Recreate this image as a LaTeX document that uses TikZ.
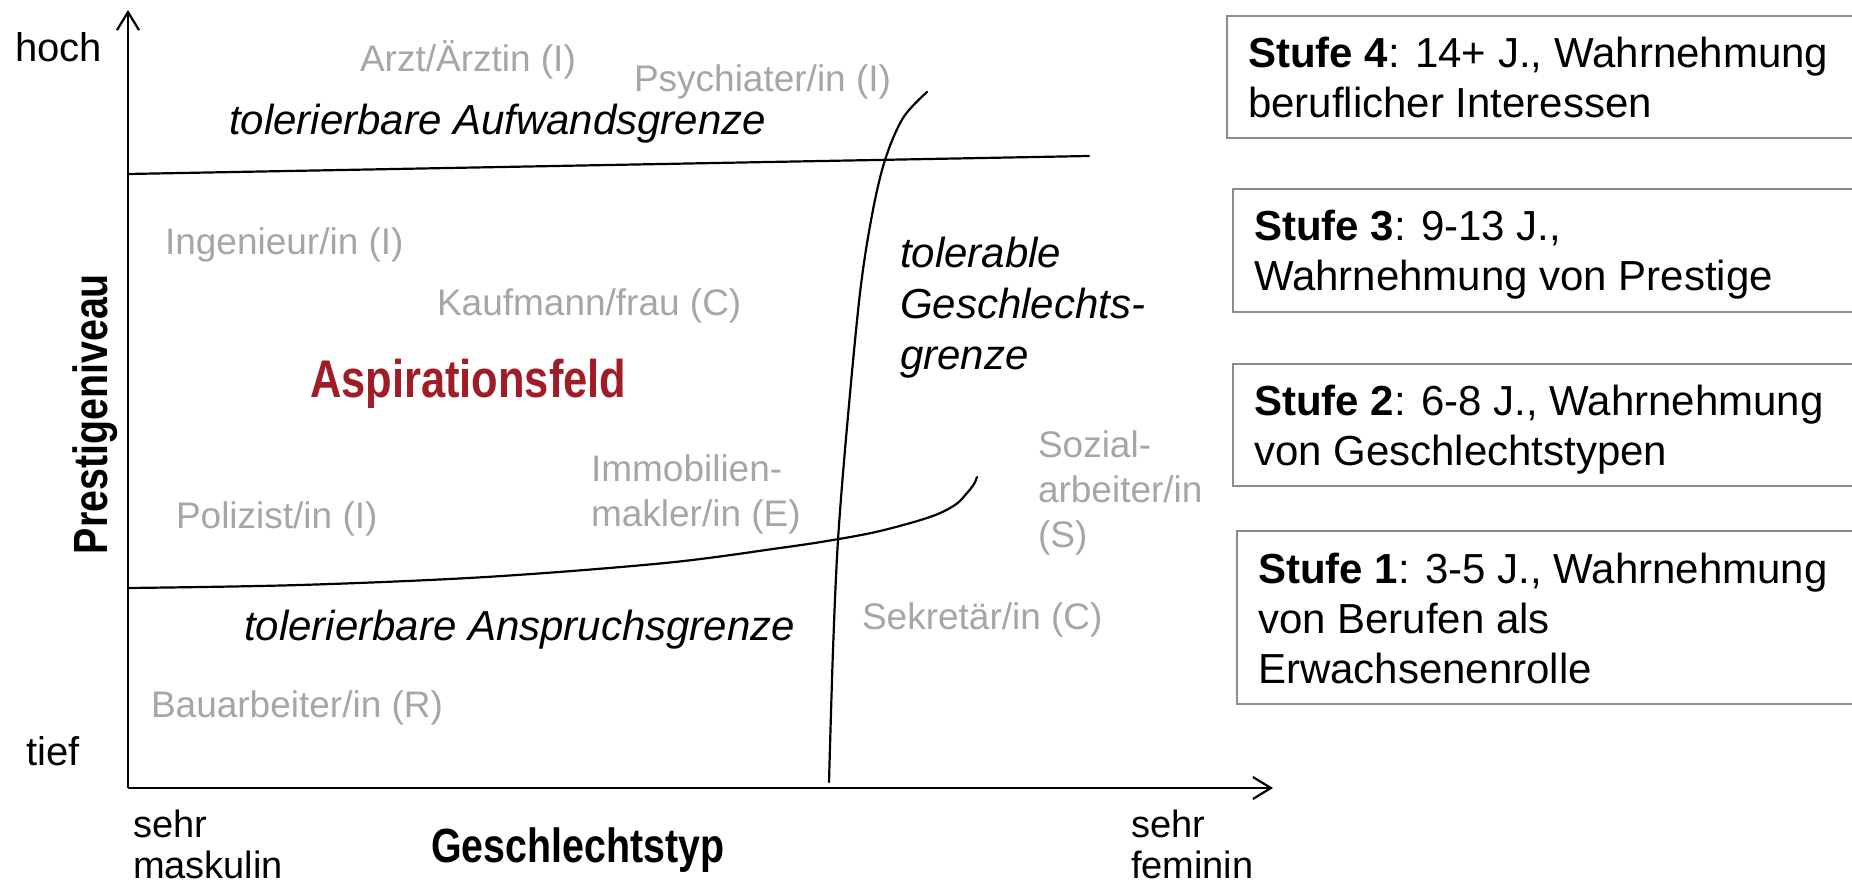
\documentclass[tikz,border=0pt]{standalone}
\usepackage{fontspec}
\setmainfont{Liberation Sans}
\newfontfamily\narrowsans[FakeStretch=0.82]{Liberation Sans}
\usetikzlibrary{arrows.meta}
\definecolor{labelgray}{RGB}{166,166,166}
\definecolor{aspred}{RGB}{160,28,38}
\definecolor{boxgray}{RGB}{140,140,140}

\begin{document}
\begin{tikzpicture}[x=1pt,y=-1pt,
  every node/.style={inner sep=0pt, outer sep=0pt, anchor=base west},
  job/.style={text=labelgray, font=\fontsize{37}{45}\selectfont},
  limit/.style={font=\fontsize{42}{51}\selectfont\itshape},
  axisend/.style={font=\fontsize{38}{41}\selectfont},
  axistitle/.style={font=\narrowsans\bfseries\fontsize{48}{56}\selectfont},
  stage/.style={font=\fontsize{42}{50}\selectfont},
  stagebox/.style={draw=boxgray, line width=2pt, anchor=north west, minimum width=660},
  boundary/.style={line width=2.2pt, line cap=round},
  axis/.style={line width=2.2pt, -{Straight Barb[length=18pt,width=22pt]}},
]
% canvas
\clip (0,0) rectangle (1852,885);

% axes
\coordinate (O) at (128,788);
\coordinate (ytop) at (128,10);
\coordinate (xend) at (1273,788);
\draw[axis] (O) -- (ytop);
\draw[axis] (O) -- (xend);

% boundaries of the aspiration field
\coordinate (effortL) at (128,174);
\coordinate (effortR) at (1089,156);
\draw[boundary] (effortL) -- (effortR);
\draw[boundary] plot[smooth, tension=0.55] coordinates
  {(829,782) (833,650) (838,540) (847,427) (860,293) (872,215) (885,160) (903,118) (927,92)};
\draw[boundary] plot[smooth, tension=0.55] coordinates
  {(128,588) (300,585) (486,577) (665,563) (780,548) (833,540) (880,531) (930,517) (955,505) (967,493) (974,484) (977,477)};

% axis labels
\node[axisend, font=\fontsize{40}{44}\selectfont] (hoch) at (15,62) {hoch};
\node[axisend, font=\fontsize{40}{44}\selectfont] (tief) at (26,765) {tief};
\node[axisend] (mask) at (133,837) {\vtop{\hbox{sehr}\hbox{maskulin}}};
\node[axisend] (fem) at (1131,837) {\vtop{\hbox{sehr}\hbox{feminin}}};
\node[axistitle] (xtitle) at (431,862) {Geschlechtstyp};
\node[axistitle, rotate=90, anchor=base] (ytitle) at (107,414) {Prestigeniveau};

% field title
\node[font=\narrowsans\bfseries\fontsize{53}{60}\selectfont, text=aspred] (field) at (310,397) {Aspirationsfeld};

% boundary names
\node[limit] (effort) at (229,135) {tolerierbare Aufwandsgrenze};
\node[limit] (claim) at (244,640) {tolerierbare Anspruchsgrenze};
\node[limit] (gender) at (900,268) {\vtop{\hbox{tolerable}\hbox{Geschlechts-}\hbox{grenze}}};

% occupations
\node[job] (arzt) at (360,72) {Arzt/Ärztin (I)};
\node[job] (psych) at (634,92) {Psychiater/in (I)};
\node[job] (ing) at (165,255) {Ingenieur/in (I)};
\node[job] (kauf) at (437,316) {Kaufmann/frau (C)};
\node[job] (immo) at (591,481) {\vtop{\hbox{Immobilien-}\hbox{makler/in (E)}}};
\node[job] (poli) at (176,528) {Polizist/in (I)};
\node[job] (sozial) at (1038,457) {\vtop{\hbox{Sozial-}\hbox{arbeiter/in}\hbox{(S)}}};
\node[job] (sekr) at (862,629) {Sekretär/in (C)};
\node[job] (bau) at (151,717) {Bauarbeiter/in (R)};

% developmental stages
\node[stagebox, minimum height=122] (s4) at (1227,16) {};
\node[stagebox, minimum height=123] (s3) at (1233,189) {};
\node[stagebox, minimum height=122] (s2) at (1233,364) {};
\node[stagebox, minimum height=173] (s1) at (1237,531) {};
\node[stage] (s4t) at (1248,68) {\vtop{\hbox{\textbf{Stufe 4}: 14+ J., Wahrnehmung}\hbox{beruflicher Interessen}}};
\node[stage] (s3t) at (1254,241) {\vtop{\hbox{\textbf{Stufe 3}: 9-13 J.,}\hbox{Wahrnehmung von Prestige}}};
\node[stage] (s2t) at (1254,415) {\vtop{\hbox{\textbf{Stufe 2}: 6-8 J., Wahrnehmung}\hbox{von Geschlechtstypen}}};
\node[stage] (s1t) at (1258,583) {\vtop{\hbox{\textbf{Stufe 1}: 3-5 J., Wahrnehmung}\hbox{von Berufen als}\hbox{Erwachsenenrolle}}};
\end{tikzpicture}
\end{document}
